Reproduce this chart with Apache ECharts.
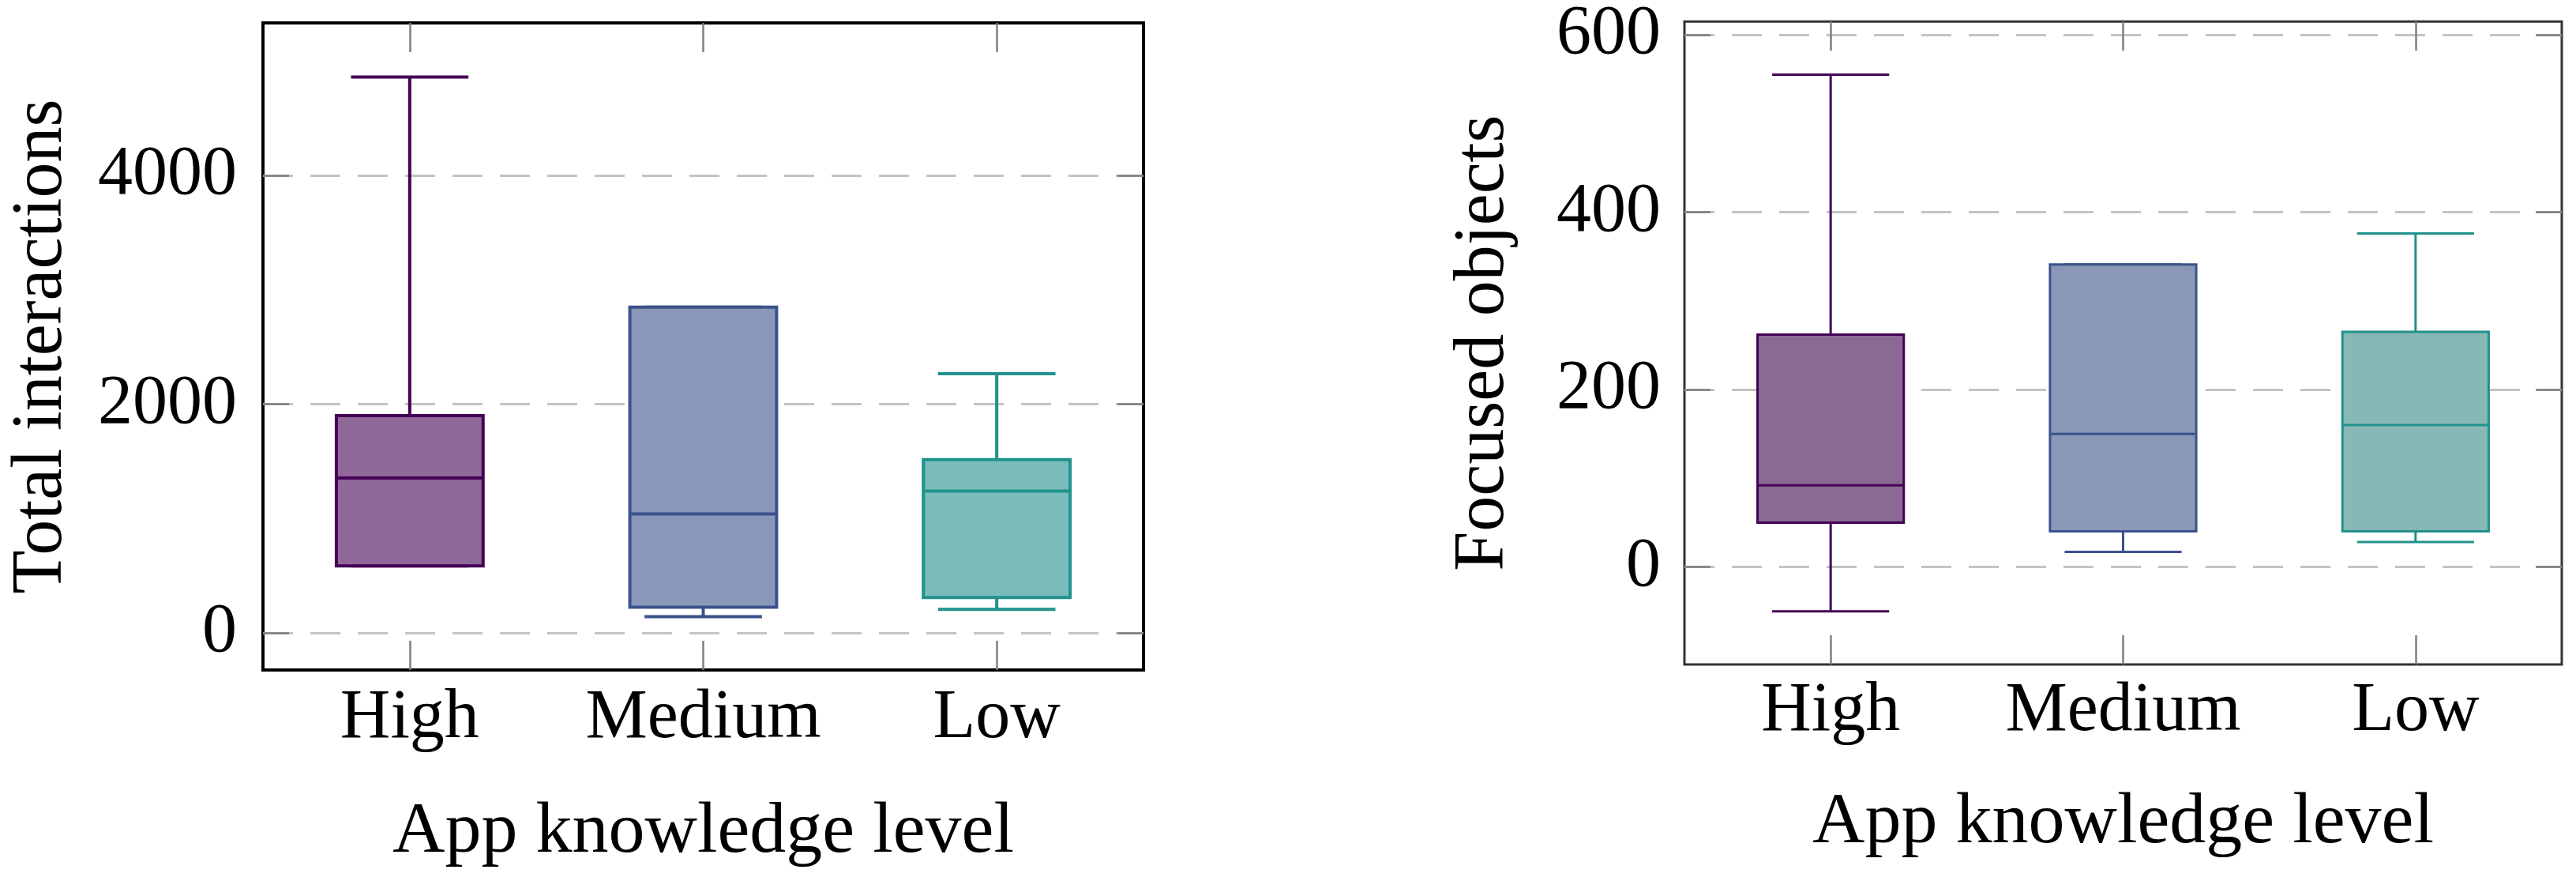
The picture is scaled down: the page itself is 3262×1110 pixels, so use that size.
<!DOCTYPE html>
<html>
<head>
<meta charset="utf-8">
<script src="https://cdn.jsdelivr.net/npm/echarts@6/dist/echarts.min.js"></script>
<style>
  html, body { margin: 0; padding: 0; background: #fff; }
  #chart { width: 3262px; height: 1110px; }
</style>
</head>
<body>
<div id="chart"></div>
<script>
// categories of the x axis (both panels)
var categories = ['High', 'Medium', 'Low'];

// box values: [min, q1, median, q3, max]
// left panel - total interactions
var interactionsHigh = [586, 586, 1353, 1900, 4860];
var interactionsMedium = [142, 225, 1040, 2847, 2847];
var interactionsLow = [205, 308, 1240, 1514, 2266];
var interactionTicks = [0, 2000, 4000];

// right panel - focused objects
var focusedHigh = [-50, 50, 92, 262, 555];
var focusedMedium = [17, 40, 150, 341, 341];
var focusedLow = [28, 40, 160, 265, 376];
var focusedTicks = [0, 200, 400, 600];

var FONT = 'Liberation Serif';
var strokes = ['#440154', '#3b528b', '#21918c'];
var fillsLeft = ['#8f6798', '#8997b9', '#7abdba'];
var fillsRight = ['#8a6a94', '#8a97b6', '#88b8b5'];

function toRows(list) {
  var rows = [];
  for (var i = 0; i < list.length; i++) {
    rows.push([i].concat(list[i]));
  }
  return rows;
}

function boxRenderer(fills, lw) {
  return function (params, api) {
    var i = params.dataIndex;
    var x = api.value(0);
    var band = api.size([1, 0])[0];
    var half = band * 0.25;
    var cap = band * 0.2;
    var pMin = api.coord([x, api.value(1)]);
    var pQ1 = api.coord([x, api.value(2)]);
    var pMed = api.coord([x, api.value(3)]);
    var pQ3 = api.coord([x, api.value(4)]);
    var pMax = api.coord([x, api.value(5)]);
    var cx = pMed[0];
    var line = { stroke: strokes[i], lineWidth: lw, fill: null };
    return {
      type: 'group',
      children: [
        { type: 'line', shape: { x1: cx, y1: pQ3[1], x2: cx, y2: pMax[1] }, style: line },
        { type: 'line', shape: { x1: cx - cap, y1: pMax[1], x2: cx + cap, y2: pMax[1] }, style: line },
        { type: 'line', shape: { x1: cx, y1: pQ1[1], x2: cx, y2: pMin[1] }, style: line },
        { type: 'line', shape: { x1: cx - cap, y1: pMin[1], x2: cx + cap, y2: pMin[1] }, style: line },
        {
          type: 'rect',
          shape: { x: cx - half, y: pQ3[1], width: half * 2, height: pQ1[1] - pQ3[1] },
          style: { fill: fills[i], stroke: strokes[i], lineWidth: lw }
        },
        { type: 'line', shape: { x1: cx - half, y1: pMed[1], x2: cx + half, y2: pMed[1] }, style: line }
      ]
    };
  };
}

var tickStyle = { color: '#7f7f7f', width: 2.5 };

function xAxes(grid, labelMargin, nameGap) {
  return [{
    gridIndex: grid,
    type: 'category',
    data: categories,
    position: 'bottom',
    axisLine: { show: false, onZero: false },
    axisTick: { show: true, inside: true, length: 37, alignWithLabel: true, lineStyle: tickStyle },
    axisLabel: { fontFamily: FONT, fontSize: 88, color: '#000', margin: labelMargin, interval: 0, hideOverlap: false },
    name: 'App knowledge level',
    nameLocation: 'middle',
    nameGap: nameGap,
    nameTextStyle: { fontFamily: FONT, fontSize: 92, color: '#000' }
  }, {
    gridIndex: grid,
    type: 'category',
    data: categories,
    position: 'top',
    axisLine: { show: false, onZero: false },
    axisTick: { show: true, inside: true, length: 37, alignWithLabel: true, lineStyle: tickStyle },
    axisLabel: { show: false }
  }];
}

function yAxes(grid, min, max, ticks, name, labelMargin, nameGap) {
  return [{
    gridIndex: grid,
    type: 'value',
    min: min,
    max: max,
    position: 'left',
    axisLine: { show: false, onZero: false },
    axisTick: { show: true, inside: true, length: 33, lineStyle: tickStyle, customValues: ticks },
    axisLabel: {
      fontFamily: FONT, fontSize: 88, color: '#000', margin: labelMargin, customValues: ticks,
      formatter: function (v) { return String(v); }
    },
    splitLine: { show: true, lineStyle: { color: '#c4c4c4', width: 3, type: [38, 22] } },
    name: name,
    nameLocation: 'middle',
    nameRotate: 90,
    nameGap: nameGap,
    nameTextStyle: { fontFamily: FONT, fontSize: 90, color: '#000' }
  }, {
    gridIndex: grid,
    type: 'value',
    min: min,
    max: max,
    position: 'right',
    axisLine: { show: false, onZero: false },
    axisTick: { show: true, inside: true, length: 33, lineStyle: tickStyle, customValues: ticks },
    axisLabel: { show: false, customValues: ticks },
    splitLine: { show: false }
  }];
}

var option = {
  backgroundColor: '#fff',
  animation: false,
  grid: [
    { left: 333, top: 29, width: 1115, height: 819, show: true, borderColor: '#000', borderWidth: 4, backgroundColor: 'transparent' },
    { left: 2133, top: 25, width: 1111, height: 816, show: true, borderColor: '#333', borderWidth: 3, backgroundColor: 'transparent' }
  ],
  xAxis: xAxes(0, 18, 160).concat(xAxes(1, 16, 155)),
  yAxis: yAxes(0, -325, 5333, interactionTicks, 'Total interactions', 33, 235)
    .concat(yAxes(1, -110, 615, focusedTicks, 'Focused objects', 30, 209)),
  series: [{
    type: 'custom',
    xAxisIndex: 0,
    yAxisIndex: 0,
    renderItem: boxRenderer(fillsLeft, 4),
    encode: { x: 0, y: [1, 2, 3, 4, 5] },
    data: toRows([interactionsHigh, interactionsMedium, interactionsLow])
  }, {
    type: 'custom',
    xAxisIndex: 2,
    yAxisIndex: 2,
    renderItem: boxRenderer(fillsRight, 3),
    encode: { x: 0, y: [1, 2, 3, 4, 5] },
    data: toRows([focusedHigh, focusedMedium, focusedLow])
  }]
};

var myChart = echarts.init(document.getElementById('chart'));
myChart.setOption(option);
</script>
</body>
</html>
